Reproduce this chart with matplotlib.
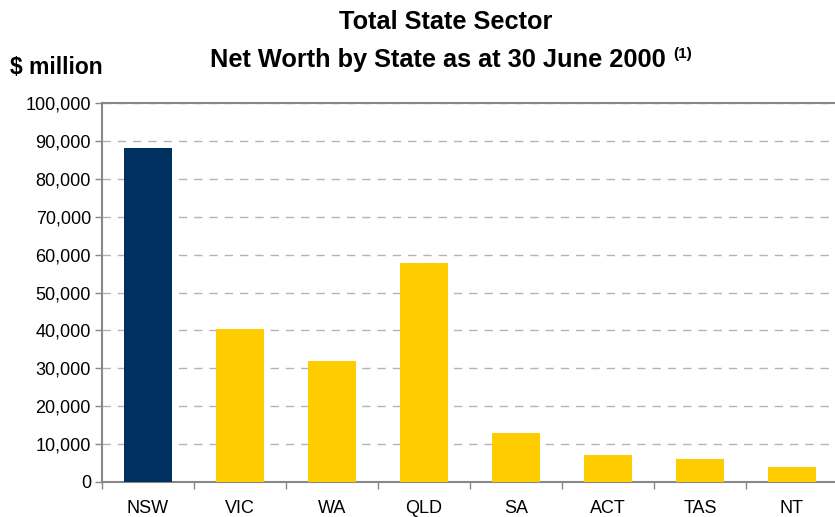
import matplotlib.pyplot as plt
import numpy as np
from matplotlib.ticker import FuncFormatter, MultipleLocator

states = ["NSW", "VIC", "WA", "QLD", "SA", "ACT", "TAS", "NT"]
net_worth = [88000, 40500, 32000, 57800, 12900, 7100, 6000, 3900]
bar_colors = ["#00305f"] + ["#ffcc00"] * 7

plt.rcParams["font.family"] = ["Liberation Sans", "DejaVu Sans"]

fig = plt.figure(figsize=(8.35, 5.17), dpi=100)
ax = fig.add_axes([102 / 835, 35 / 517, 736 / 835, 379 / 517])

x = np.arange(len(states))
ax.bar(x, net_worth, width=0.52, color=bar_colors, zorder=3)

ax.set_xlim(-0.5, len(states) - 0.5)
ax.set_ylim(0, 100000)
ax.yaxis.set_major_locator(MultipleLocator(10000))
ax.yaxis.set_major_formatter(FuncFormatter(lambda v, p: f"{v:,.0f}"))

ax.set_xticks(x)
ax.set_xticklabels(states)
ax.set_xticks(np.arange(-0.5, len(states), 1), minor=True)
ax.tick_params(axis="x", which="major", length=0, pad=13, labelsize=13)
ax.tick_params(axis="x", which="minor", length=5, color="#888888", width=1)
ax.tick_params(axis="y", length=5, color="#888888", width=1, labelsize=13, pad=3)

ax.grid(axis="y", color="#b4b4b4", linewidth=1, dashes=(6, 5), zorder=0)

for side in ["left", "bottom", "top", "right"]:
    ax.spines[side].set_color("#888888")
    ax.spines[side].set_linewidth(1.5)

fig.text(446 / 835, 1 - 22 / 517, "Total State Sector", ha="center", va="center",
         fontsize=18.3, fontweight="bold")
t = fig.text(438 / 835, 1 - 60 / 517, "Net Worth by State as at 30 June 2000",
             ha="center", va="center", fontsize=18.3, fontweight="bold")
fig.text(10 / 835, 1 - 68 / 517, "$ million", ha="left", va="center",
         fontsize=16.5, fontweight="bold")
fig.canvas.draw()
ax.annotate("(1)", xy=(1, 1), xycoords=t, xytext=(5, 1), textcoords="offset points",
            ha="left", va="top", fontsize=11, fontweight="bold",
            annotation_clip=False)

fig.savefig("out.png", dpi=100)
